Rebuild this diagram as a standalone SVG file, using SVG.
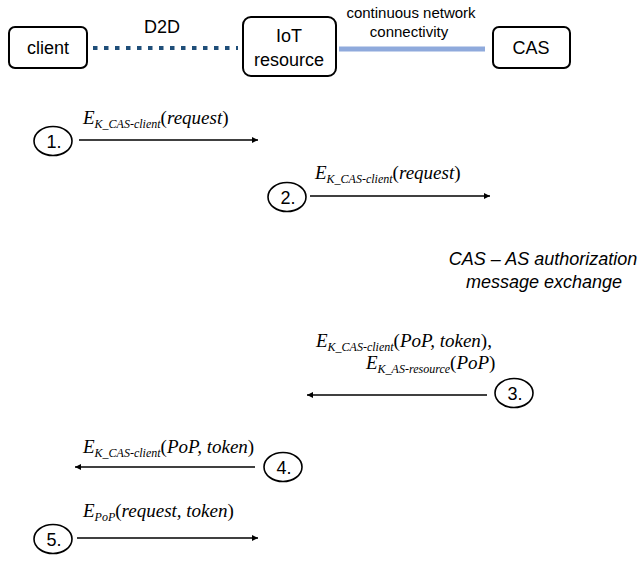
<svg xmlns="http://www.w3.org/2000/svg" width="642" height="561" viewBox="0 0 642 561">
<defs>
<style>
.box{fill:#fff;stroke:#000;stroke-width:2}
.lbl{font-family:"Liberation Sans",Arial,sans-serif;font-size:18px;fill:#000;text-anchor:middle}
.small{font-family:"Liberation Sans",Arial,sans-serif;font-size:15px;fill:#000;text-anchor:middle}
.ital{font-family:"Liberation Sans",Arial,sans-serif;font-size:18px;font-style:italic;fill:#000;text-anchor:middle}
.num{fill:#fff;stroke:#000;stroke-width:1.6}
.numt{font-family:"Liberation Sans",Arial,sans-serif;font-size:18px;fill:#000;text-anchor:middle}
.msg{font-family:"Liberation Serif","Times New Roman",serif;font-size:19px;fill:#000}
.it{font-style:italic}
.sub{font-size:12px;font-style:italic}
.arr{stroke:#000;stroke-width:1.3;fill:none}
</style>
<marker id="ah" viewBox="0 0 10 10" refX="10" refY="5" markerWidth="8" markerHeight="6" markerUnits="userSpaceOnUse" orient="auto">
<path d="M0,0 L10,5 L0,10 z" fill="#000"/>
</marker>
</defs>
<rect width="642" height="561" fill="#fff"/>

<g id="connectors">
<line x1="93" y1="48" x2="238" y2="48" stroke="#1F4E79" stroke-width="4" stroke-dasharray="4.5 6.5"/>
<line x1="339" y1="49" x2="485" y2="49" stroke="#8FAADC" stroke-width="5"/>
<line class="arr" x1="79" y1="140" x2="258" y2="140" marker-end="url(#ah)"/>
<line class="arr" x1="310" y1="196" x2="490" y2="196" marker-end="url(#ah)"/>
<line class="arr" x1="487" y1="395" x2="307" y2="395" marker-end="url(#ah)"/>
<line class="arr" x1="255" y1="467" x2="75" y2="467" marker-end="url(#ah)"/>
<line class="arr" x1="77" y1="538" x2="258" y2="538" marker-end="url(#ah)"/>
</g>

<g id="link-labels">
<text class="lbl" x="162" y="33">D2D</text>
<text class="small" x="411" y="18">continuous network</text>
<text class="small" x="409" y="37">connectivity</text>
</g>

<g id="client">
<rect class="box" x="9" y="27" width="78" height="41" rx="6"/>
<text class="lbl" x="48" y="54">client</text>
</g>
<g id="iot-resource">
<rect class="box" x="243" y="17" width="93" height="59" rx="8"/>
<text class="lbl" x="289" y="42">IoT</text>
<text class="lbl" x="289" y="66">resource</text>
</g>
<g id="cas">
<rect class="box" x="493" y="27" width="77" height="41" rx="6"/>
<text class="lbl" x="531" y="54">CAS</text>
</g>

<g id="step1">
<ellipse class="num" cx="53" cy="141" rx="19" ry="14.5"/>
<text class="numt" x="54" y="147.5">1.</text>
<text class="msg" x="83" y="124"><tspan class="it">E</tspan><tspan class="sub" dy="4">K_CAS-client</tspan><tspan dy="-4">(</tspan><tspan class="it">request</tspan>)</text>
</g>
<g id="step2">
<ellipse class="num" cx="287" cy="197" rx="19" ry="14.5"/>
<text class="numt" x="288" y="203.5">2.</text>
<text class="msg" x="315" y="179"><tspan class="it">E</tspan><tspan class="sub" dy="4">K_CAS-client</tspan><tspan dy="-4">(</tspan><tspan class="it">request</tspan>)</text>
</g>
<g id="cas-as-exchange">
<text class="ital" x="543" y="265">CAS – AS authorization</text>
<text class="ital" x="544" y="288">message exchange</text>
</g>
<g id="step3">
<ellipse class="num" cx="514" cy="393" rx="19" ry="14.5"/>
<text class="numt" x="515" y="399.5">3.</text>
<text class="msg" x="316" y="347"><tspan class="it">E</tspan><tspan class="sub" dy="3.5">K_CAS-client</tspan><tspan dy="-3.5">(</tspan><tspan class="it">PoP, token</tspan>),</text>
<text class="msg" x="366" y="369"><tspan class="it">E</tspan><tspan class="sub" dy="3.5">K_AS-resource</tspan><tspan dy="-3.5">(</tspan><tspan class="it">PoP</tspan>)</text>
</g>
<g id="step4">
<ellipse class="num" cx="283" cy="467" rx="19" ry="14.5"/>
<text class="numt" x="284" y="473.5">4.</text>
<text class="msg" x="83" y="453"><tspan class="it">E</tspan><tspan class="sub" dy="4">K_CAS-client</tspan><tspan dy="-4">(</tspan><tspan class="it">PoP, token</tspan>)</text>
</g>
<g id="step5">
<ellipse class="num" cx="53" cy="539" rx="19" ry="14.5"/>
<text class="numt" x="54" y="545.5">5.</text>
<text class="msg" x="83" y="517"><tspan class="it">E</tspan><tspan class="sub" dy="4">PoP</tspan><tspan dy="-4">(</tspan><tspan class="it">request, token</tspan>)</text>
</g>
</svg>
